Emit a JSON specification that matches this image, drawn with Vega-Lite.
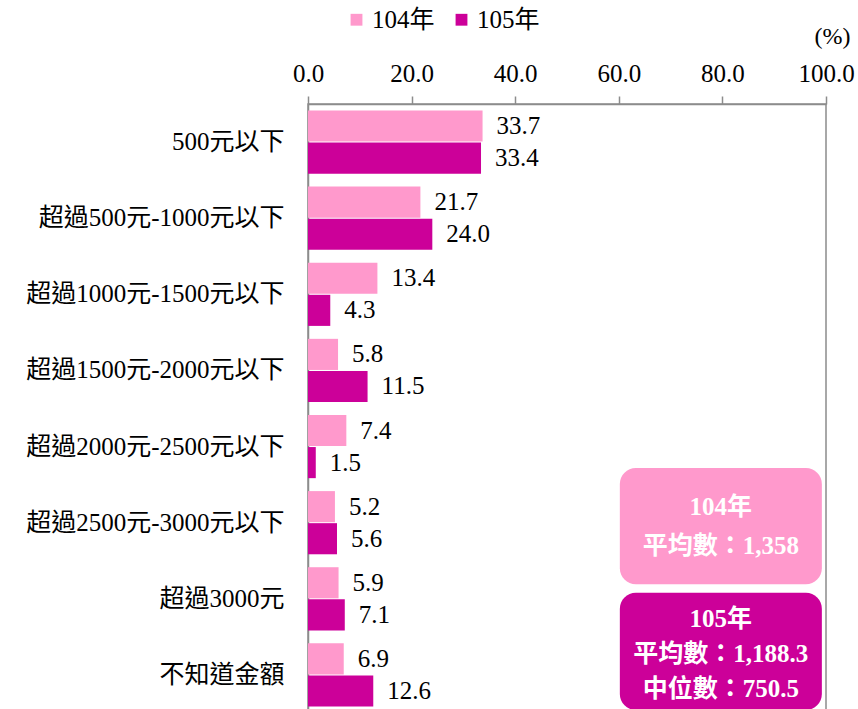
{
  "$schema": "https://vega.github.io/schema/vega-lite/v6.json",
  "autosize": "none",
  "width": 518,
  "height": 609,
  "padding": {"left": 308, "top": 104, "right": 32, "bottom": 0},
  "background": "white",
  "config": {
    "view": {"stroke": "#8c8c8c", "strokeWidth": 1.5},
    "font": "Liberation Serif, Noto Sans CJK TC"
  },
  "datasets": {
    "bars": [
      {"category": "500元以下", "year": "104年", "value": 33.7},
      {"category": "500元以下", "year": "105年", "value": 33.4},
      {"category": "超過500元-1000元以下", "year": "104年", "value": 21.7},
      {"category": "超過500元-1000元以下", "year": "105年", "value": 24.0},
      {"category": "超過1000元-1500元以下", "year": "104年", "value": 13.4},
      {"category": "超過1000元-1500元以下", "year": "105年", "value": 4.3},
      {"category": "超過1500元-2000元以下", "year": "104年", "value": 5.8},
      {"category": "超過1500元-2000元以下", "year": "105年", "value": 11.5},
      {"category": "超過2000元-2500元以下", "year": "104年", "value": 7.4},
      {"category": "超過2000元-2500元以下", "year": "105年", "value": 1.5},
      {"category": "超過2500元-3000元以下", "year": "104年", "value": 5.2},
      {"category": "超過2500元-3000元以下", "year": "105年", "value": 5.6},
      {"category": "超過3000元", "year": "104年", "value": 5.9},
      {"category": "超過3000元", "year": "105年", "value": 7.1},
      {"category": "不知道金額", "year": "104年", "value": 6.9},
      {"category": "不知道金額", "year": "105年", "value": 12.6}
    ],
    "boxes": [
      {"year": "104年", "x1": 60.2, "x2": 99.2, "y1": 4.78, "y2": 6.31},
      {"year": "105年", "x1": 60.2, "x2": 99.2, "y1": 6.42, "y2": 7.96}
    ],
    "boxText": [
      {"label": "104年", "x": 79.7, "y": 5.3},
      {"label": "平均數：1,358", "x": 79.7, "y": 5.8},
      {"label": "105年", "x": 79.7, "y": 6.76},
      {"label": "平均數：1,188.3", "x": 79.7, "y": 7.22},
      {"label": "中位數：750.5", "x": 79.7, "y": 7.69}
    ]
  },
  "layer": [
    {
      "layer": [
        {
          "data": {"name": "bars"},
          "mark": {"type": "bar"},
          "encoding": {
            "y": {
              "field": "category", "type": "nominal", "sort": null,
              "scale": {"paddingInner": 0.17, "paddingOuter": 0.085},
              "axis": {
                "title": null, "ticks": false, "domain": true, "domainColor": "#8c8c8c", "domainWidth": 1.5,
                "labelFontSize": 25, "labelColor": "black", "labelPadding": 24, "labelLimit": 400
              }
            },
            "yOffset": {"field": "year", "type": "nominal", "scale": {"paddingInner": 0.03}},
            "x": {
              "field": "value", "type": "quantitative",
              "scale": {"domain": [0, 100], "nice": false},
              "axis": {
                "orient": "top", "values": [0, 20, 40, 60, 80, 100], "format": ".1f",
                "grid": false, "domainColor": "#8c8c8c", "domainWidth": 1.5,
                "tickColor": "#8c8c8c", "tickSize": 8, "tickWidth": 1.5,
                "labelFontSize": 25, "labelColor": "black", "labelPadding": 10,
                "labelFlush": false,
                "title": "(%)", "titleFontSize": 24, "titleFontWeight": "normal", "titleColor": "black",
                "titleX": 524, "titleY": -68, "titleAlign": "center", "titleBaseline": "middle"
              }
            },
            "color": {
              "field": "year", "type": "nominal",
              "scale": {"domain": ["104年", "105年"], "range": ["#FF99CC", "#CC0099"]},
              "legend": {
                "title": null, "orient": "none", "direction": "horizontal",
                "legendX": 36, "legendY": -97, "symbolType": "square", "symbolSize": 140,
                "symbolStrokeWidth": 0, "labelFontSize": 25, "labelColor": "black",
                "columnPadding": 14, "labelOffset": 3
              }
            }
          }
        },
        {
          "data": {"name": "bars"},
          "mark": {"type": "text", "align": "left", "baseline": "middle", "dx": 14, "fontSize": 25, "color": "black"},
          "encoding": {
            "y": {"field": "category", "type": "nominal", "sort": null},
            "yOffset": {"field": "year", "type": "nominal"},
            "x": {"field": "value", "type": "quantitative"},
            "text": {"field": "value", "type": "quantitative", "format": ".1f"}
          }
        }
      ]
    },
    {
      "layer": [
        {
          "data": {"name": "boxes"},
          "mark": {"type": "rect", "cornerRadius": 16},
          "encoding": {
            "x": {"field": "x1", "type": "quantitative"},
            "x2": {"field": "x2"},
            "y": {"field": "y1", "type": "quantitative", "scale": {"domain": [0, 8], "reverse": true, "nice": false, "zero": false}, "axis": null},
            "y2": {"field": "y2"},
            "color": {"field": "year", "type": "nominal"}
          }
        },
        {
          "data": {"name": "boxText"},
          "mark": {"type": "text", "align": "center", "baseline": "middle", "fontSize": 25, "fontWeight": "bold", "color": "white"},
          "encoding": {
            "x": {"field": "x", "type": "quantitative"},
            "y": {"field": "y", "type": "quantitative", "scale": {"domain": [0, 8], "reverse": true, "nice": false, "zero": false}, "axis": null},
            "text": {"field": "label"}
          }
        }
      ]
    }
  ],
  "resolve": {"scale": {"y": "independent"}, "axis": {"y": "independent"}}
}
